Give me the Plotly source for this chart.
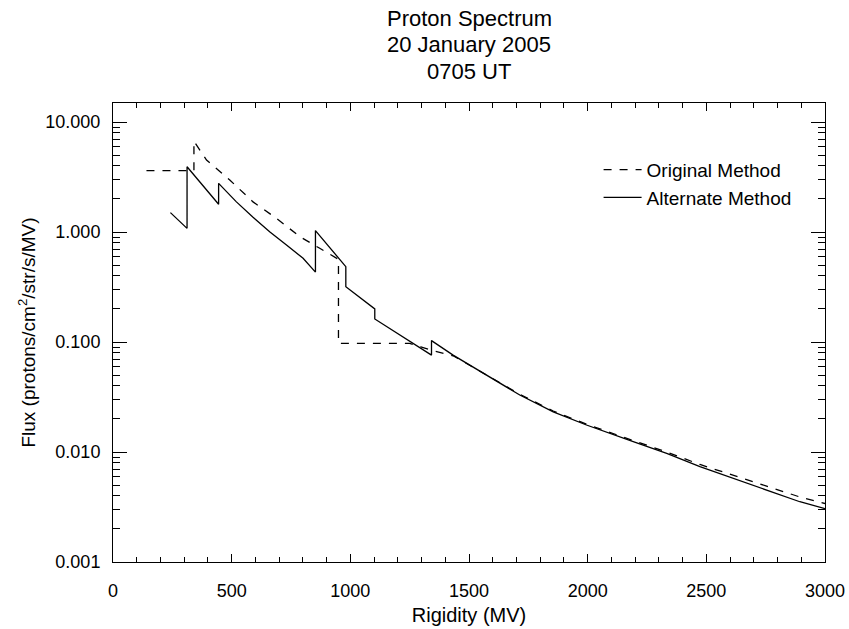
import plotly.graph_objects as go

# Rigidity (MV) and flux values
orig_rigidity = [141, 341, 341, 394, 492, 590, 689, 787, 871, 950, 950, 1250, 1300,
                 1342, 1433, 1574, 1714, 1855, 1995, 2192, 2333, 2473, 2613, 2754, 2894, 3000]
orig_flux = [3.61, 3.61, 6.7, 4.51, 2.97, 1.88, 1.33, 0.908, 0.711, 0.565, 0.097, 0.097, 0.090,
             0.084, 0.075, 0.050, 0.0335, 0.0236, 0.0179, 0.0127, 0.0100, 0.0077, 0.0061, 0.0049,
             0.0039, 0.0034]

alt_rigidity = [242, 312, 312, 379, 445, 445, 520, 590, 660, 731, 801, 853, 853, 981, 981,
                1103, 1103, 1342, 1342, 1433, 1574, 1714, 1855, 1995, 2192, 2333, 2473, 2613,
                2754, 2894, 3000]
alt_flux = [1.50, 1.08, 3.92, 2.67, 1.79, 2.77, 1.88, 1.36, 1.006, 0.762, 0.577, 0.432, 1.03,
            0.484, 0.318, 0.20, 0.162, 0.076, 0.103, 0.076, 0.050, 0.033, 0.0232, 0.0176,
            0.0124, 0.00972, 0.00735, 0.00576, 0.00451, 0.00353, 0.00305]

x_ticks = [0, 500, 1000, 1500, 2000, 2500, 3000]
y_ticks = [0.001, 0.01, 0.1, 1, 10]
y_ticktext = ["0.001", "0.010", "0.100", "1.000", "10.000"]
y_minor = [0.002, 0.003, 0.004, 0.005, 0.006, 0.007, 0.008, 0.009,
           0.02, 0.03, 0.04, 0.05, 0.06, 0.07, 0.08, 0.09,
           0.2, 0.3, 0.4, 0.5, 0.6, 0.7, 0.8, 0.9,
           2, 3, 4, 5, 6, 7, 8, 9]

title_lines = ["Proton Spectrum", "20 January 2005", "0705 UT"]

FONT = "Liberation Sans, Arial, Helvetica, sans-serif"

fig = go.Figure()

fig.add_trace(go.Scatter(
    x=orig_rigidity, y=orig_flux, mode="lines", name="Original Method",
    line=dict(color="black", width=1.3, dash="8px,8px"),
))
fig.add_trace(go.Scatter(
    x=alt_rigidity, y=alt_flux, mode="lines", name="Alternate Method",
    line=dict(color="black", width=1.3),
))

# three title lines, placed one by one to match the tighter line spacing
for text, ypos in zip(title_lines, [1.185, 1.127, 1.069]):
    fig.add_annotation(
        text=text, x=0.5, y=ypos, xref="paper", yref="paper",
        xanchor="center", yanchor="middle", showarrow=False,
        font=dict(size=22),
    )

fig.update_layout(
    width=849, height=629,
    margin=dict(l=113, r=24, t=103, b=67, autoexpand=False),
    paper_bgcolor="white", plot_bgcolor="white",
    font=dict(family=FONT, color="black", size=19),
    showlegend=True,
    legend=dict(
        x=0.682, y=0.896, xanchor="left", yanchor="top", itemwidth=38,
        bgcolor="rgba(0,0,0,0)", font=dict(size=19),
    ),
)

fig.update_xaxes(
    range=[0, 3000], tickvals=x_ticks, ticks="inside", ticklen=8, tickcolor="black",
    tickwidth=1, automargin=False,
    showline=True, linecolor="black", linewidth=1, mirror="ticks",
    showgrid=False, zeroline=False, tickfont=dict(size=18),
    ticklabelstandoff=12,
    minor=dict(ticks="inside", dtick=100, ticklen=5, tickcolor="black", tickwidth=1,
               showgrid=False),
    title=dict(text="Rigidity (MV)", font=dict(size=20), standoff=8),
)

fig.update_yaxes(
    type="log", range=[-3, 1.173], tickvals=y_ticks, ticktext=y_ticktext,
    ticks="inside", ticklen=14, tickcolor="black", tickwidth=1, automargin=False,
    showline=True, linecolor="black", linewidth=1, mirror="ticks",
    showgrid=False, zeroline=False, tickfont=dict(size=18),
    ticklabelstandoff=8,
    minor=dict(ticks="inside", tickvals=y_minor, ticklen=7, tickcolor="black", tickwidth=1,
               showgrid=False),
    title=dict(text="Flux (protons/cm<sup>2</sup>/str/s/MV)", font=dict(size=19), standoff=4),
)

# drop the page's default body margin so the figure fills the window exactly
fig.write_html(
    "out.html",
    config={"displayModeBar": False},
    post_script="document.body.style.margin='0';",
)
